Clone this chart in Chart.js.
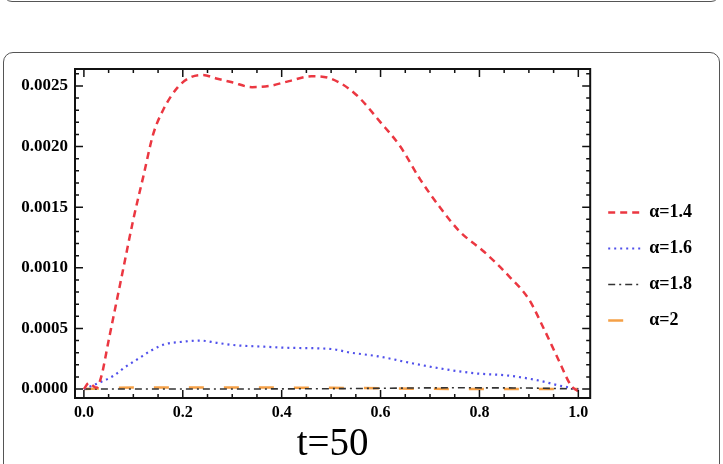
<!DOCTYPE html>
<html>
<head>
<meta charset="utf-8">
<script src="https://cdn.jsdelivr.net/npm/chart.js@4.4.0/dist/chart.umd.min.js"></script>
<style>
  html, body { margin: 0; padding: 0; background: #fff; }
  body { width: 723px; height: 464px; position: relative; overflow: hidden; }
  .prev { position: absolute; box-sizing: border-box; left: 3px; top: -28px; width: 717px; height: 30px; border: 1.5px solid #555; border-radius: 9px; }
  .panel { position: absolute; box-sizing: border-box; left: 3px; top: 52px; width: 717px; height: 470px; border: 1.5px solid #555; border-radius: 10px; }
  #wrap { position: absolute; left: 0; top: 0; width: 723px; height: 464px; }
</style>
</head>
<body>
<div class="prev"></div>
<div class="panel"></div>
<div id="wrap"><canvas id="chart"></canvas></div>
<script>
// tick labels
const xTickValues = [0, 0.2, 0.4, 0.6, 0.8, 1.0];
const yTickValues = [0, 0.0005, 0.001, 0.0015, 0.002, 0.0025];
const seriesNames = ['α=1.4', 'α=1.6', 'α=1.8', 'α=2'];

// alpha = 1.4
const tA14 = [0, 0.01, 0.025, 0.035, 0.05, 0.065, 0.08, 0.1, 0.12, 0.14, 0.16, 0.19, 0.215, 0.24, 0.27, 0.3, 0.34, 0.375, 0.415, 0.46, 0.5, 0.55, 0.6, 0.64, 0.68, 0.72, 0.76, 0.81, 0.86, 0.9, 0.93, 0.96, 0.985, 1.0];
const vA14 = [0, 0.00005, 0.00001, 0.0001, 0.0004, 0.0007, 0.001, 0.0014, 0.00175, 0.0021, 0.0023, 0.00249, 0.00257, 0.00259, 0.00256, 0.00253, 0.00249, 0.0025, 0.00254, 0.00258, 0.00256, 0.00243, 0.0022, 0.002, 0.00173, 0.0015, 0.0013, 0.00113, 0.00093, 0.00074, 0.0005, 0.00024, 0.00003, -0.00002];

// alpha = 1.6
const tA16 = [0, 0.03, 0.06, 0.083, 0.11, 0.137, 0.164, 0.2, 0.235, 0.27, 0.31, 0.36, 0.415, 0.5, 0.54, 0.595, 0.655, 0.72, 0.79, 0.86, 0.92, 0.96, 0.985, 1.0];
const vA16 = [0, 0.00005, 0.00011, 0.00018, 0.00025, 0.00032, 0.00037, 0.00039, 0.0004, 0.00038, 0.00036, 0.00035, 0.00034, 0.00033, 0.0003, 0.00027, 0.00022, 0.00017, 0.00013, 0.00011, 0.00007, 0.00003, 0.00001, 0];

// alpha = 1.8
const tA18 = [0, 0.25, 0.5, 0.75, 0.9, 1.0];
const vA18 = [0, 0, 0.000003, 0.00001, 0.000008, 0];

// alpha = 2
const tA2 = [0, 0.1, 0.3, 0.5, 0.7, 0.9, 1.0];
const vA2 = [0, 0.000012, 0.000012, 0.00001, 0.000002, 0, 0];

const toPoints = (ts, vs) => ts.map((t, i) => ({ x: t, y: vs[i] }));

const serif = 'Liberation Serif, Times New Roman, serif';

// mathematica style frame with inward ticks
const frameTicks = {
  id: 'frameTicks',
  afterDatasetsDraw(chart) {
    const { ctx, chartArea: a, scales: { x, y } } = chart;
    ctx.save();
    ctx.strokeStyle = '#111';
    ctx.lineWidth = 1.5;
    ctx.beginPath();
    for (let i = 0; i <= 20; i++) {
      const px = x.getPixelForValue(i * 0.05);
      const len = i % 4 === 0 ? 8 : 4;
      ctx.moveTo(px, a.bottom); ctx.lineTo(px, a.bottom - len);
      ctx.moveTo(px, a.top); ctx.lineTo(px, a.top + len);
    }
    for (let i = 0; i <= 26; i++) {
      const py = y.getPixelForValue(i * 0.0001);
      const len = i % 5 === 0 ? 8 : 4;
      ctx.moveTo(a.left, py); ctx.lineTo(a.left + len, py);
      ctx.moveTo(a.right, py); ctx.lineTo(a.right - len, py);
    }
    ctx.stroke();
    ctx.lineWidth = 2;
    ctx.strokeRect(a.left, a.top, a.right - a.left, a.bottom - a.top);
    ctx.restore();
  }
};

const ctx = document.getElementById('chart').getContext('2d');
const myChart = new Chart(ctx, {
  type: 'line',
  data: {
    datasets: [
      { label: seriesNames[0], data: toPoints(tA14, vA14), borderColor: 'rgb(235,55,65)', borderWidth: 2.5, borderDash: [7, 5] },
      { label: seriesNames[1], data: toPoints(tA16, vA16), borderColor: 'rgb(80,80,235)', borderWidth: 2.2, borderDash: [2, 4] },
      { label: seriesNames[2], data: toPoints(tA18, vA18), borderColor: '#333', borderWidth: 1.6, borderDash: [7, 4, 2, 4] },
      { label: seriesNames[3], data: toPoints(tA2, vA2), borderColor: 'rgb(245,160,70)', borderWidth: 2.5, borderDash: [15, 20] }
    ]
  },
  options: {
    responsive: true,
    maintainAspectRatio: false,
    animation: false,
    layout: { padding: { top: 69, left: 0, right: 21, bottom: 0 } },
    elements: {
      point: { radius: 0 },
      line: { fill: false, cubicInterpolationMode: 'monotone' }
    },
    plugins: {
      tooltip: { enabled: false },
      legend: {
        position: 'right',
        labels: {
          usePointStyle: true,
          pointStyle: 'line',
          pointStyleWidth: 32,
          padding: 18,
          color: '#000',
          font: { family: serif, size: 18, weight: 'bold' },
          generateLabels: chart => {
            const items = Chart.defaults.plugins.legend.labels.generateLabels(chart);
            items.forEach(item => {
              const ds = chart.data.datasets[item.datasetIndex];
              item.lineDash = ds.borderDash;
              item.lineWidth = ds.borderWidth;
              item.strokeStyle = ds.borderColor;
              item.pointStyle = 'line';
            });
            return items;
          }
        }
      }
    },
    scales: {
      x: {
        type: 'linear',
        min: -0.018,
        max: 1.024,
        grid: { display: false, drawTicks: false, tickLength: 0 },
        border: { display: false },
        afterBuildTicks: s => { s.ticks = xTickValues.map(v => ({ value: v })); },
        afterFit: s => { s.height = 66; },
        ticks: {
          padding: 5,
          color: '#000',
          font: { family: serif, size: 16, weight: 'bold' },
          callback: v => v.toFixed(1)
        },
        title: {
          display: true,
          text: 't=50',
          color: '#000',
          padding: 0,
          font: { family: serif, size: 39, lineHeight: 1 }
        }
      },
      y: {
        min: -0.000074,
        max: 0.00264,
        grid: { display: false, drawTicks: false, tickLength: 0 },
        border: { display: false },
        afterBuildTicks: s => { s.ticks = yTickValues.map(v => ({ value: v })); },
        afterFit: s => { s.width = 75; },
        ticks: {
          padding: 7,
          color: '#000',
          font: { family: serif, size: 17, weight: 'bold' },
          callback: v => v.toFixed(4)
        }
      }
    }
  },
  plugins: [frameTicks]
});
</script>
</body>
</html>
